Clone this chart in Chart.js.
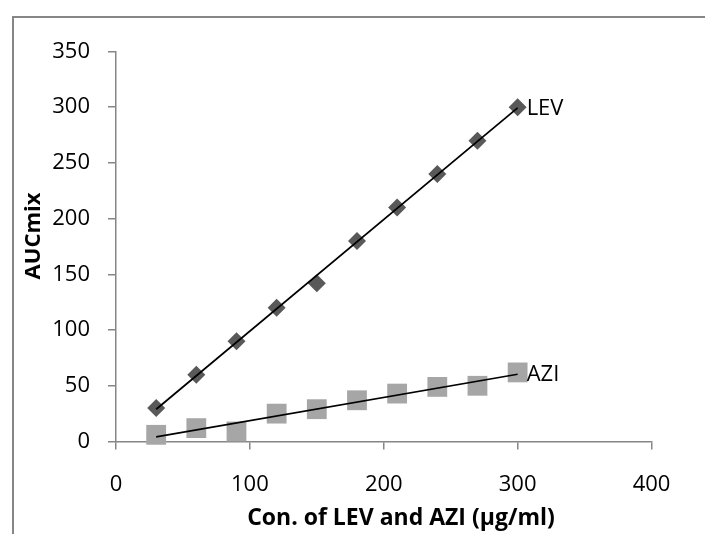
<!DOCTYPE html>
<html>
<head>
<meta charset="utf-8">
<script src="https://cdn.jsdelivr.net/npm/chart.js@4.4.1/dist/chart.umd.min.js"></script>
<style>
  html, body { margin: 0; padding: 0; background: #fff; }
  #wrap { width: 705px; height: 534px; }
</style>
</head>
<body>
<div id="wrap"><canvas id="calChart" width="705" height="534"></canvas></div>
<script>
// Calibration data (AUC of mixture vs concentration)
const concentrations = [30, 60, 90, 120, 150, 180, 210, 240, 270, 300];
const levAUC = [30, 60, 90, 120, 142, 180, 210, 240, 270, 300];
const aziAUC = [6, 12, 9, 25, 29, 37, 43, 49, 50, 62];
const seriesNames = ['LEV', 'AZI'];
const xTicks = [0, 100, 200, 300, 400];
const yTicks = [0, 50, 100, 150, 200, 250, 300, 350];
const xTitle = 'Con. of LEV and AZI (µg/ml)';
const yTitle = 'AUCmix';

const axisGray = '#868686';

// least squares trendline, from first to last x
function linearFit(xs, ys) {
    const n = xs.length;
    const mx = xs.reduce((a, b) => a + b, 0) / n;
    const my = ys.reduce((a, b) => a + b, 0) / n;
    let sxy = 0, sxx = 0;
    for (let i = 0; i < n; i++) {
        sxy += (xs[i] - mx) * (ys[i] - my);
        sxx += (xs[i] - mx) * (xs[i] - mx);
    }
    const slope = sxy / sxx;
    const intercept = my - slope * mx;
    const x0 = xs[0], x1 = xs[n - 1];
    return [{ x: x0, y: slope * x0 + intercept }, { x: x1, y: slope * x1 + intercept }];
}

function toPoints(xs, ys) {
    return xs.map((x, i) => ({ x: x, y: ys[i] }));
}

// gray frame around the chart (runs off the right and bottom edge)
const framePlugin = {
    id: 'frame',
    beforeDraw(chart) {
        const ctx = chart.ctx;
        ctx.save();
        ctx.strokeStyle = axisGray;
        ctx.lineWidth = 2;
        ctx.strokeRect(13, 17, 720, 540);
        ctx.restore();
    }
};

// axis titles, placed like the Excel original
const axisTitlePlugin = {
    id: 'axisTitles',
    afterDraw(chart) {
        const ctx = chart.ctx;
        ctx.save();
        ctx.fillStyle = '#000';
        ctx.textAlign = 'center';
        ctx.textBaseline = 'middle';
        ctx.font = "bold 23px 'Open Sans', sans-serif";
        ctx.fillText(xTitle, 401, 518);
        ctx.translate(34, 236);
        ctx.rotate(-Math.PI / 2);
        ctx.font = "bold 22px 'Open Sans', sans-serif";
        ctx.fillText(yTitle, 0, 0);
        ctx.restore();
    }
};

// series name next to the last point
const endLabelPlugin = {
    id: 'endLabels',
    afterDatasetsDraw(chart) {
        const ctx = chart.ctx;
        const xs = chart.scales.x, ys = chart.scales.y;
        ctx.save();
        ctx.font = "22px 'Open Sans', sans-serif";
        ctx.fillStyle = '#000';
        ctx.textAlign = 'left';
        ctx.textBaseline = 'middle';
        chart.data.datasets.forEach(ds => {
            if (!ds.endLabel) return;
            const last = ds.data[ds.data.length - 1];
            ctx.fillText(ds.endLabel, xs.getPixelForValue(last.x) + 9, ys.getPixelForValue(last.y) + 2);
        });
        ctx.restore();
    }
};

Chart.defaults.font.family = "'Open Sans', sans-serif";
Chart.defaults.color = '#000';

const ctx = document.getElementById('calChart').getContext('2d');
const calChart = new Chart(ctx, {
    type: 'scatter',
    data: {
        datasets: [{
            label: seriesNames[0] + ' trend',
            data: linearFit(concentrations, levAUC),
            showLine: true,
            borderColor: '#000',
            borderWidth: 1.75,
            pointRadius: 0,
            order: 0
        }, {
            label: seriesNames[1] + ' trend',
            data: linearFit(concentrations, aziAUC),
            showLine: true,
            borderColor: '#000',
            borderWidth: 1.75,
            pointRadius: 0,
            order: 0
        }, {
            label: seriesNames[0],
            endLabel: seriesNames[0],
            data: toPoints(concentrations, levAUC),
            pointStyle: 'rectRot',
            pointRadius: 9,
            backgroundColor: '#595959',
            borderWidth: 0,
            clip: false,
            order: 1
        }, {
            label: seriesNames[1],
            endLabel: seriesNames[1],
            data: toPoints(concentrations, aziAUC),
            pointStyle: 'rect',
            pointRadius: 14,
            backgroundColor: '#a6a6a6',
            borderWidth: 0,
            clip: false,
            order: 1
        }]
    },
    options: {
        responsive: false,
        animation: false,
        events: [],
        layout: {
            padding: { left: 0, top: 51.5, right: 53.5, bottom: 0 }
        },
        plugins: {
            legend: { display: false },
            tooltip: { enabled: false }
        },
        scales: {
            x: {
                type: 'linear',
                min: 0,
                max: 400,
                afterBuildTicks: s => { s.ticks = xTicks.map(v => ({ value: v })); },
                afterFit: s => { s.height = 92.5; },
                border: { color: axisGray, width: 1.5 },
                grid: { drawOnChartArea: false, drawTicks: true, tickLength: 8, color: axisGray, lineWidth: 1.5 },
                ticks: { padding: 22, font: { size: 22 }, color: '#000' }
            },
            y: {
                type: 'linear',
                min: 0,
                max: 350,
                afterBuildTicks: s => { s.ticks = yTicks.map(v => ({ value: v })); },
                afterFit: s => { s.width = 116; },
                border: { color: axisGray, width: 1.5 },
                grid: { drawOnChartArea: false, drawTicks: true, tickLength: 8, color: axisGray, lineWidth: 1.5 },
                ticks: { padding: 18, font: { size: 22 }, color: '#000' }
            }
        }
    },
    plugins: [framePlugin, axisTitlePlugin, endLabelPlugin]
});
</script>
</body>
</html>
